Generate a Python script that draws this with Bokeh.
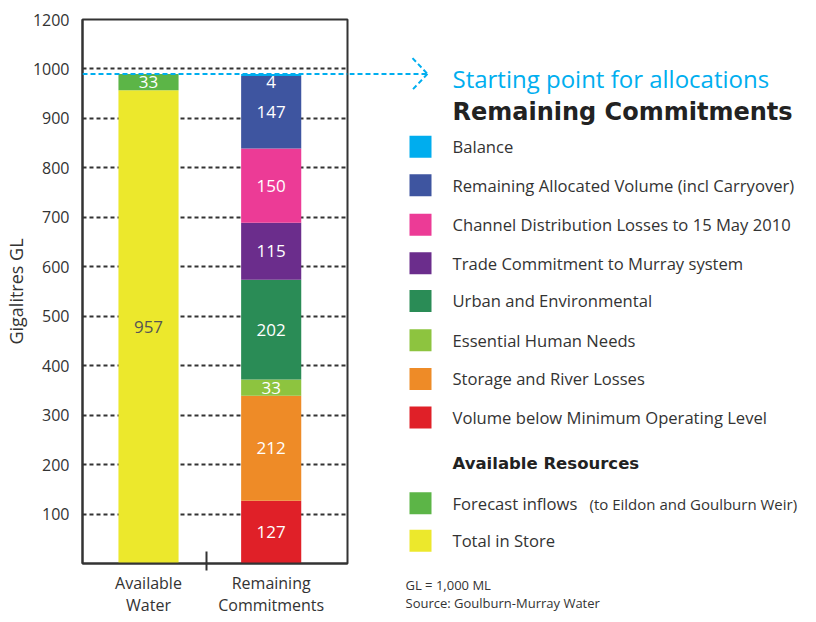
from bokeh.plotting import figure
from bokeh.layouts import row
from bokeh.models import Range1d, FixedTicker, ColumnDataSource, Span, Title
from bokeh.core.properties import value
from bokeh.embed import file_html
from bokeh.resources import INLINE

FONT = "Open Sans"
BOLD_FONT = "DejaVu Sans"
TEXT = "#333333"
CYAN = "#00AEEF"

# ---------------- data ----------------
categories = ["Available\nWater", "Remaining\nCommitments"]

commit_labels = [  # bottom to top
    "Volume below Minimum Operating Level",
    "Storage and River Losses",
    "Essential Human Needs",
    "Urban and Environmental",
    "Trade Commitment to Murray system",
    "Channel Distribution Losses to 15 May 2010",
    "Remaining Allocated Volume (incl Carryover)",
    "Balance",
]
commit_values = [127, 212, 33, 202, 115, 150, 147, 4]
commit_colors = ["#E02028", "#EE8B27", "#8DC43F", "#2A8C56",
                 "#6B2D8C", "#EC3B96", "#3E55A0", "#00ADEE"]

avail_labels = ["Total in Store", "Forecast inflows"]  # bottom to top
avail_values = [957, 33]
avail_colors = ["#ECE82C", "#5CB547"]
avail_text_colors = ["#555555", "white"]

y_ticks = [100, 200, 300, 400, 500, 600, 700, 800, 900, 1000, 1100]
y_tick_labels = ["100", "200", "300", "400", "500", "600", "700", "800", "900", "1000", "1200"]
grid_ticks = [100, 200, 300, 400, 500, 600, 700, 800, 900, 1000]
start_point = 990
Y_MAX = 1100

# ---------------- layout constants ----------------
H = 621
LEFT_W, RIGHT_W = 349, 458
ORIGIN_X = 1
RIGHT_X0 = ORIGIN_X + LEFT_W
REF_TOP, REF_PX_PER_GL = 20, 551 / 1100   # placement of the side notes relative to the chart

X_AVAIL, X_COMMIT, X_SEP = 0.0, 1.0, 0.474
BAR_W = 0.49


def gl(page_y):
    """vertical position (in GL units of the shared scale) for a side note"""
    return Y_MAX - (page_y - REF_TOP) / REF_PX_PER_GL


# ---------------- left: chart ----------------
p = figure(width=LEFT_W, height=H, output_backend="svg", toolbar_location=None,
           x_range=Range1d(-0.538, 1.622), y_range=Range1d(0, Y_MAX),
           min_border_left=78, min_border_right=2, min_border_top=19, min_border_bottom=40)
p.background_fill_color = "white"
p.border_fill_color = "white"
p.outline_line_color = TEXT
p.outline_line_width = 2

p.xgrid.visible = False
p.ygrid.ticker = FixedTicker(ticks=grid_ticks)
p.ygrid.grid_line_color = TEXT
p.ygrid.grid_line_width = 2
p.ygrid.grid_line_dash = "4 3"

p.yaxis.ticker = FixedTicker(ticks=y_ticks)
p.yaxis.major_label_overrides = {t: l for t, l in zip(y_ticks, y_tick_labels)}
p.yaxis.major_tick_line_color = None
p.yaxis.major_tick_out = 0
p.yaxis.major_tick_in = 0
p.yaxis.minor_tick_line_color = None
p.yaxis.major_label_standoff = 13
p.yaxis.major_label_text_font = FONT
p.yaxis.major_label_text_font_size = "16px"
p.yaxis.major_label_text_color = TEXT
p.yaxis.axis_line_color = TEXT
p.yaxis.axis_line_width = 2
p.yaxis.axis_label = "Gigalitres GL"
p.yaxis.axis_label_text_font = FONT
p.yaxis.axis_label_text_font_size = "18px"
p.yaxis.axis_label_text_font_style = "normal"
p.yaxis.axis_label_text_color = TEXT
p.yaxis.axis_label_standoff = 2

p.xaxis.ticker = FixedTicker(ticks=[X_AVAIL, X_COMMIT], minor_ticks=[X_SEP])
p.xaxis.major_label_overrides = {0: categories[0], 1: categories[1]}
p.xaxis.major_tick_line_color = None
p.xaxis.major_tick_out = 0
p.xaxis.major_tick_in = 0
p.xaxis.minor_tick_line_color = TEXT
p.xaxis.minor_tick_line_width = 2
p.xaxis.minor_tick_in = 12
p.xaxis.minor_tick_out = 7
p.xaxis.major_label_standoff = 1
p.xaxis.major_label_text_font = FONT
p.xaxis.major_label_text_font_size = "16px"
p.xaxis.major_label_text_line_height = 1.0
p.xaxis.major_label_text_color = TEXT
p.xaxis.axis_line_color = TEXT
p.xaxis.axis_line_width = 2


def stack(values):
    bottoms, tops, acc = [], [], 0
    for v in values:
        bottoms.append(acc)
        acc += v
        tops.append(acc)
    return bottoms, tops


def label_shift(values):
    # labels of very thin segments sit just below them, as in the original
    return [7 if v < 10 else 0 for v in values]


ab, at = stack(avail_values)
cb, ct = stack(commit_values)

src_a = ColumnDataSource(dict(x=[X_AVAIL] * len(avail_values), bottom=ab, top=at,
                              color=avail_colors, mid=[(b + t) / 2 for b, t in zip(ab, at)],
                              lab=[str(v) for v in avail_values], tcol=avail_text_colors,
                              dy=label_shift(avail_values)))
src_c = ColumnDataSource(dict(x=[X_COMMIT] * len(commit_values), bottom=cb, top=ct,
                              color=commit_colors, mid=[(b + t) / 2 for b, t in zip(cb, ct)],
                              lab=[str(v) for v in commit_values],
                              tcol=["white"] * len(commit_values),
                              dy=label_shift(commit_values)))

for src in (src_a, src_c):
    p.vbar(x="x", bottom="bottom", top="top", width=BAR_W, fill_color="color",
           line_color=None, source=src)
    p.text(x="x", y="mid", text="lab", text_color="tcol", text_align="center",
           text_baseline="middle", y_offset="dy", text_font=value(FONT),
           text_font_size="17px", source=src)

p.add_layout(Span(location=start_point, dimension="width", line_color=CYAN,
                  line_width=2, line_dash="5 3"))

# ---------------- right: legend and notes ----------------
q = figure(width=RIGHT_W, height=H, output_backend="svg", toolbar_location=None,
           x_range=Range1d(RIGHT_X0, RIGHT_X0 + RIGHT_W), y_range=Range1d(0, Y_MAX),
           min_border=0)
q.axis.visible = False
q.grid.visible = False
q.outline_line_color = None
q.background_fill_color = "white"
q.border_fill_color = "white"

# continuation of the starting-point line with a dashed open arrow head
tip = 428
head_dy = 16 / REF_PX_PER_GL
q.segment(x0=[RIGHT_X0, tip - 15, tip], y0=[start_point, start_point + head_dy, start_point],
          x1=[tip, tip, tip - 15], y1=[start_point, start_point, start_point - head_dy],
          line_color=CYAN, line_width=2, line_dash="5 3")

SQ_X, TX = 421, 453
commit_rows = [149, 188, 228, 267, 305, 345, 384, 423]
avail_rows = [510, 548]

leg_labels = list(reversed(commit_labels)) + ["Forecast inflows", "Total in Store"]
leg_colors = list(reversed(commit_colors)) + list(reversed(avail_colors))
leg_y = [gl(v) for v in commit_rows + avail_rows]

q.rect(x=[SQ_X] * len(leg_y), y=leg_y, width=22, height=22, height_units="screen",
       fill_color=leg_colors, line_color=None)
q.text(x=[TX] * len(leg_y), y=leg_y, text=leg_labels, text_font=value(FONT),
       text_font_size="16.6px", text_color=TEXT, text_baseline="middle")
q.text(x=[590], y=[gl(avail_rows[0] + 1)], text=["(to Eildon and Goulburn Weir)"],
       text_font=value(FONT), text_font_size="15px", text_color=TEXT, text_baseline="middle")

q.text(x=[TX], y=[gl(80)], text=["Starting point for allocations"], text_font=value(FONT),
       text_font_size="24px", text_color=CYAN, text_baseline="middle")
q.text(x=[TX], y=[gl(114)], text=["Remaining Commitments"], text_font=value(BOLD_FONT),
       text_font_size="24px", text_font_style="bold", text_color="#222222",
       text_baseline="middle")
q.text(x=[TX], y=[gl(470)], text=["Available Resources"], text_font=value(BOLD_FONT),
       text_font_size="16.5px", text_font_style="bold", text_color="#222222",
       text_baseline="middle")

foot_offset = 406 - RIGHT_X0
q.add_layout(Title(text="GL = 1,000 ML\nSource: Goulburn-Murray Water", align="left",
                   offset=foot_offset, standoff=20, text_font=FONT, text_font_size="13px",
                   text_line_height=1.0, text_font_style="normal", text_color=TEXT), "below")

layout = row(p, q)
open("out.html", "w").write(file_html(layout, INLINE))
